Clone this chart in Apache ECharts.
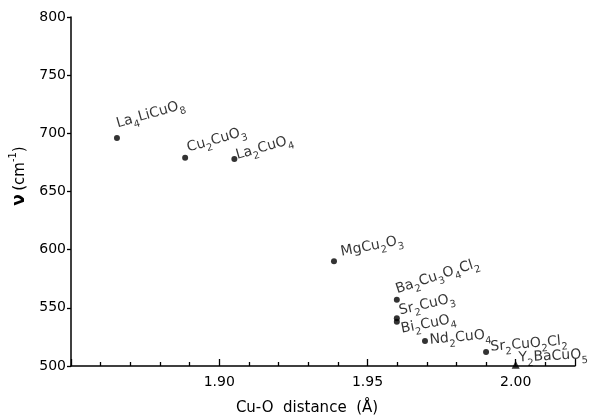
<!DOCTYPE html>
<html>
<head>
<meta charset="utf-8">
<script src="https://cdn.jsdelivr.net/npm/echarts@6/dist/echarts.min.js"></script>
<style>
html,body{margin:0;padding:0;background:#fff;}
#chart{width:591px;height:417px;}
</style>
</head>
<body>
<div id="chart"></div>
<script>
// ---- data ----
const compounds   = ['La4LiCuO8','Cu2CuO3','La2CuO4','MgCu2O3','Ba2Cu3O4Cl2','Sr2CuO3','Bi2CuO4','Nd2CuO4','Sr2CuO2Cl2','Y2BaCuO5'];
const cuoDistance = [1.8655, 1.8885, 1.9051, 1.9387, 1.9599, 1.9599, 1.9599, 1.9694, 1.9900, 2.0000];
const frequency   = [696, 679, 678, 590, 557, 541, 538, 521.5, 512, 501];
const markerShape = ['circle','circle','circle','circle','circle','circle','circle','circle','circle','triangle'];
const xTickLabels = ['1.90','1.95','2.00'];
const yTickLabels = ['500','550','600','650','700','750','800'];

// ---- label placement (style, not data) ----
const labelRotate = [16, 16, 16, 11, 18, 13, 11, 5, 5, 3];
const labelOffset = [[3.7,-2.6],[4.7,2.3],[2.7,8.3],[8.5,3.4],[2.4,1.3],[4,4.3],[2.8,19.1],[4.7,10.5],[4.8,6.6],[3.2,4.3]];

const FONT = 'DejaVu Sans';
const INK = '#000';

function toRich(name){
  return name.replace(/([A-Za-z]+)|(\d+)/g, (m, a, d) => a ? '{n|' + a + '}' : '{s|' + d + '}');
}

const points = compounds.map((c, i) => ({
  name: c,
  value: [cuoDistance[i], frequency[i]],
  symbol: markerShape[i],
  symbolSize: markerShape[i] === 'triangle' ? 8 : 6,
  label: {
    rotate: labelRotate[i],
    offset: labelOffset[i]
  }
}));

const chart = echarts.init(document.getElementById('chart'), null, {renderer: 'canvas'});
chart.setOption({
  backgroundColor: '#fff',
  animation: false,
  grid: {left: 71, right: 16, top: 17, bottom: 51, containLabel: false},
  xAxis: {
    type: 'value', min: 1.85, max: 2.02, interval: 0.05,
    splitLine: {show: false},
    axisLine: {onZero: false, lineStyle: {color: INK, width: 1.5}},
    axisTick: {inside: true, length: 7, lineStyle: {color: INK, width: 1.3}},
    minorTick: {show: true, splitNumber: 5, length: 4, lineStyle: {color: INK, width: 1.3}},
    minorSplitLine: {show: false},
    axisLabel: {
      color: INK, fontFamily: FONT, fontSize: 14, margin: 9,
      showMinLabel: false, showMaxLabel: false,
      formatter: v => { const s = v.toFixed(2); return xTickLabels.indexOf(s) >= 0 ? s : ''; }
    }
  },
  yAxis: {
    type: 'value', min: 500, max: 800, interval: 50,
    splitLine: {show: false},
    axisLine: {onZero: false, lineStyle: {color: INK, width: 1.5}},
    axisTick: {inside: false, length: 4, lineStyle: {color: INK, width: 1.3}},
    axisLabel: {
      color: INK, fontFamily: FONT, fontSize: 14, margin: 5,
      formatter: v => { const s = String(Math.round(v)); return yTickLabels.indexOf(s) >= 0 ? s : ''; }
    }
  },
  series: [{
    type: 'scatter',
    data: points,
    itemStyle: {color: '#000'},
    label: {
      show: true,
      position: 'inside',
      align: 'left',
      verticalAlign: 'bottom',
      formatter: p => toRich(p.name),
      rich: {
        n: {fontFamily: FONT, fontSize: 14, color: INK, verticalAlign: 'top', lineHeight: 18},
        s: {fontFamily: FONT, fontSize: 10, color: INK, verticalAlign: 'bottom', lineHeight: 10}
      }
    },
    emphasis: {disabled: true}
  }],
  graphic: [
    {
      type: 'text', x: 307, y: 408,
      style: {text: 'Cu-O  distance  (Å)', fontFamily: FONT, fontSize: 15, fill: INK, align: 'center', verticalAlign: 'middle'}
    },
    {
      type: 'text', x: 18, y: 176, rotation: Math.PI / 2,
      style: {
        text: '{a|ν} {b|(cm}{c|-1}{b|)}',
        align: 'center', verticalAlign: 'middle',
        rich: {
          a: {fontFamily: FONT, fontSize: 17, fontWeight: 'bold', fill: INK, color: INK, verticalAlign: 'bottom', lineHeight: 20},
          b: {fontFamily: FONT, fontSize: 15, fill: INK, color: INK, verticalAlign: 'bottom', lineHeight: 20},
          c: {fontFamily: FONT, fontSize: 10, fill: INK, color: INK, verticalAlign: 'top', lineHeight: 20}
        }
      }
    }
  ]
});
</script>
</body>
</html>
